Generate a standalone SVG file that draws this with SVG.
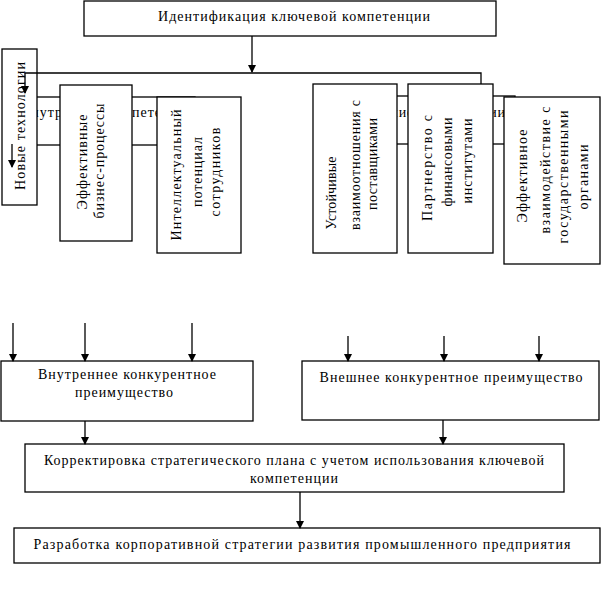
<svg xmlns="http://www.w3.org/2000/svg" width="602" height="590" viewBox="0 0 602 590">
<defs>
<marker id="ah" markerUnits="userSpaceOnUse" markerWidth="8" markerHeight="10" refX="7" refY="4" orient="auto">
<path d="M0,0 L8,4 L0,8 z" fill="#000"/>
</marker>
<style>
rect{fill:#fff;stroke:#000;stroke-width:1.3}
text{font-family:"Liberation Serif","Times New Roman",serif;font-size:14px;fill:#000}
.c{text-anchor:middle}
.ln{stroke:#000;stroke-width:1.3;fill:none}
.ar{stroke:#000;stroke-width:1.3;fill:none;marker-end:url(#ah)}
</style>
</defs>
<rect x="0" y="0" width="602" height="590" style="fill:#fff;stroke:none"/>

<g id="top">
<rect x="84" y="1" width="412" height="35"/>
<text class="c" x="294" y="21" textLength="272" lengthAdjust="spacing">Идентификация ключевой компетенции</text>
</g>

<g id="hidden-internal">
<rect x="20" y="97" width="175" height="48"/>
<text x="21" y="117" textLength="174" lengthAdjust="spacing">Внутренние компетенции</text>
</g>
<g id="hidden-external">
<rect x="345" y="96" width="170" height="48"/>
<text x="353" y="117" textLength="152" lengthAdjust="spacing">Внешние компетенции</text>
</g>

<g id="n-tech">
<rect x="2" y="49" width="35" height="156"/>
<text class="c" transform="translate(25,126) rotate(-90)" textLength="128" lengthAdjust="spacing">Новые технологии</text>
</g>

<g id="n-bp">
<rect x="60" y="85" width="72" height="156"/>
<text class="c" transform="translate(87,162) rotate(-90)" textLength="95" lengthAdjust="spacing">Эффективные</text>
<text class="c" transform="translate(104,161) rotate(-90)" textLength="115" lengthAdjust="spacing">бизнес-процессы</text>
</g>

<g id="n-int">
<rect x="157" y="97" width="84" height="156"/>
<text class="c" transform="translate(181,175) rotate(-90)" textLength="131" lengthAdjust="spacing">Интеллектуальный</text>
<text class="c" transform="translate(202,172) rotate(-90)" textLength="70" lengthAdjust="spacing">потенциал</text>
<text class="c" transform="translate(220,172) rotate(-90)" textLength="89" lengthAdjust="spacing">сотрудников</text>
</g>

<g id="n-sup">
<rect x="313" y="84" width="84" height="169"/>
<text class="c" transform="translate(336,193) rotate(-90)" textLength="73" lengthAdjust="spacing">Устойчивые</text>
<text class="c" transform="translate(360,165) rotate(-90)" textLength="130" lengthAdjust="spacing">взаимоотношения с</text>
<text class="c" transform="translate(377,164) rotate(-90)" textLength="92" lengthAdjust="spacing">поставщиками</text>
</g>

<g id="n-fin">
<rect x="408" y="84" width="85" height="169"/>
<text class="c" transform="translate(432,168) rotate(-90)" textLength="106" lengthAdjust="spacing">Партнерство с</text>
<text class="c" transform="translate(452,162) rotate(-90)" textLength="89" lengthAdjust="spacing">финансовыми</text>
<text class="c" transform="translate(472,161) rotate(-90)" textLength="85" lengthAdjust="spacing">институтами</text>
</g>

<g id="n-gov">
<rect x="504" y="97" width="96" height="167"/>
<text class="c" transform="translate(527,176) rotate(-90)" textLength="93" lengthAdjust="spacing">Эффективное</text>
<text class="c" transform="translate(550,170) rotate(-90)" textLength="127" lengthAdjust="spacing">взаимодействие с</text>
<text class="c" transform="translate(568,177) rotate(-90)" textLength="133" lengthAdjust="spacing">государственными</text>
<text class="c" transform="translate(588,177) rotate(-90)" textLength="65" lengthAdjust="spacing">органами</text>
</g>

<g id="n-inner-adv">
<rect x="1" y="361" width="252" height="60"/>
<text class="c" x="127" y="379" textLength="178" lengthAdjust="spacing">Внутреннее конкурентное</text>
<text class="c" x="124" y="397" textLength="98" lengthAdjust="spacing">преимущество</text>
</g>

<g id="n-outer-adv">
<rect x="302" y="361" width="297" height="59"/>
<text class="c" x="451" y="382" textLength="263" lengthAdjust="spacing">Внешнее конкурентное преимущество</text>
</g>

<g id="n-correct">
<rect x="25" y="444" width="539" height="48"/>
<text class="c" x="294" y="465" textLength="500" lengthAdjust="spacing">Корректировка стратегического плана с учетом использования ключевой</text>
<text class="c" x="294" y="483" textLength="88" lengthAdjust="spacing">компетенции</text>
</g>

<g id="n-strategy">
<rect x="14" y="528" width="586" height="35"/>
<text class="c" x="302" y="549" textLength="537" lengthAdjust="spacing">Разработка корпоративной стратегии развития промышленного предприятия</text>
</g>

<g id="connectors">
<line class="ar" x1="252" y1="36" x2="252" y2="72"/>
<polyline class="ln" points="25,73 481,73 481,84"/>
<line class="ar" x1="25" y1="73" x2="25" y2="93"/>
<line class="ar" x1="12" y1="144" x2="12" y2="167"/>
<line class="ar" x1="13" y1="323" x2="13" y2="361"/>
<line class="ar" x1="85" y1="323" x2="85" y2="361"/>
<line class="ar" x1="192" y1="323" x2="192" y2="361"/>
<line class="ar" x1="348" y1="336" x2="348" y2="361"/>
<line class="ar" x1="444" y1="336" x2="444" y2="361"/>
<line class="ar" x1="539" y1="336" x2="539" y2="361"/>
<line class="ar" x1="85" y1="421" x2="85" y2="444"/>
<line class="ar" x1="443" y1="420" x2="443" y2="444"/>
<line class="ar" x1="300" y1="492" x2="300" y2="528"/>
</g>
</svg>
